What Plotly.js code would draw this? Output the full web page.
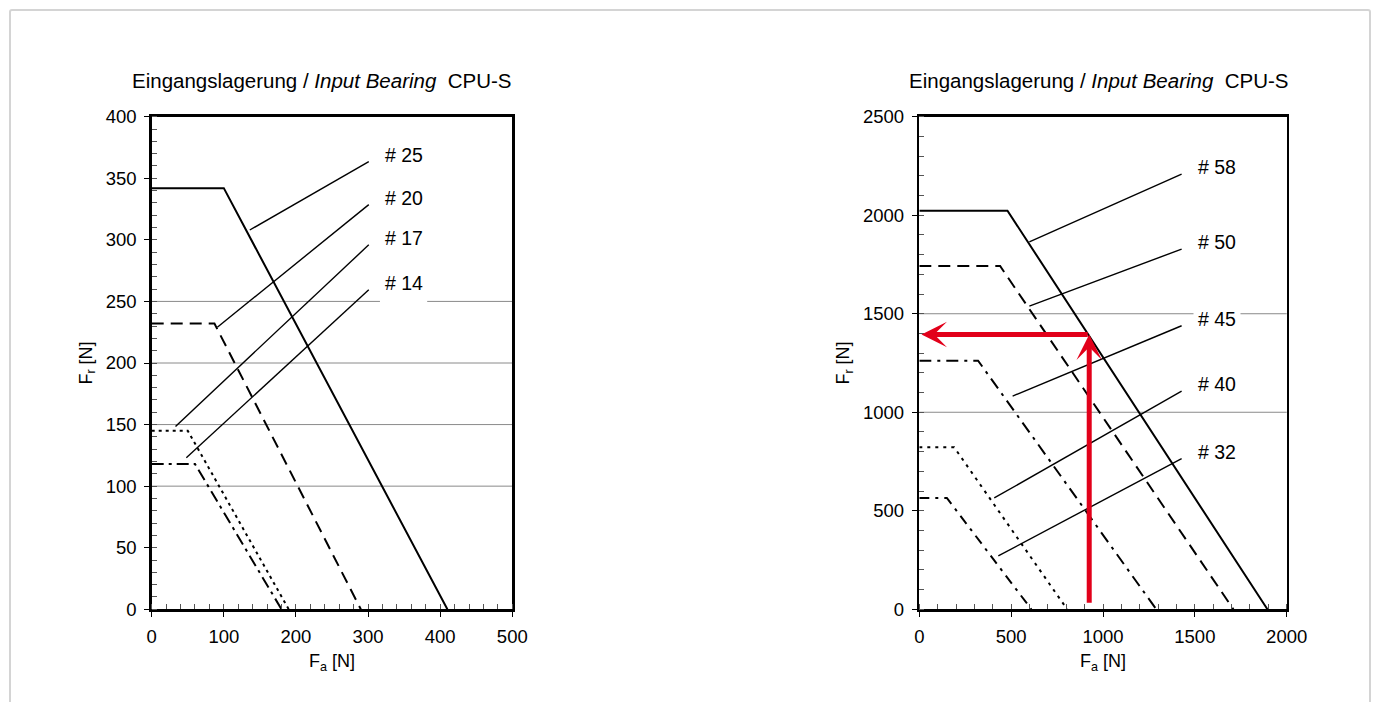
<!DOCTYPE html>
<html>
<head>
<meta charset="utf-8">
<script src="https://cdn.plot.ly/plotly-3.0.1.min.js"></script>
<style>
  html, body { margin: 0; padding: 0; background: #ffffff; }
  #frame { position: absolute; left: 9px; top: 9px; width: 1362px; height: 720px;
           border: 2px solid #d4d4d4; border-radius: 3px; box-sizing: border-box; }
  #chart { position: absolute; left: 0; top: 0; width: 1378px; height: 702px; }
</style>
</head>
<body>
<div id="frame"></div>
<div id="chart"></div>
<script>
// ---------------- data: left chart (range 0..500 / 0..400) ----------------
const leftNames   = ['# 25', '# 20', '# 17', '# 14'];
const leftCurveX  = [[0, 100, 410], [0, 87, 290], [0, 50, 190], [0, 60, 180]];
const leftCurveY  = [[342, 342, 0], [232, 232, 0], [145, 145, 0], [118, 118, 0]];
const leftLeadX   = [[136, 301], [91, 301], [33, 301], [48, 301]];
const leftLeadY   = [[308, 363.5], [229, 328.6], [148.5, 296], [123, 259.5]];
const leftDash    = ['solid', '12px,7px', '3px,4px', '12px,5px,3px,5px'];
const leftGrid    = [100, 150, 200, 250];
const leftGridGap = [316.5, 382];   // white gap in the 250 line behind "# 14"

// ---------------- data: right chart (range 0..2000 / 0..2500) ----------------
const rightNames  = ['# 58', '# 50', '# 45', '# 40', '# 32'];
const rightCurveX = [[0, 480, 1895], [0, 440, 1710], [0, 320, 1290], [0, 190, 805], [0, 150, 610]];
const rightCurveY = [[2023, 2023, 0], [1742, 1742, 0], [1262, 1262, 0], [822, 822, 0], [565, 565, 0]];
const rightLeadX  = [[599, 1428], [599, 1428], [508, 1428], [408, 1428], [430, 1428]];
const rightLeadY  = [[1865, 2209], [1539, 1828], [1082, 1439], [565, 1107], [271, 765]];
const rightDash   = ['solid', '12px,7px', '12px,6px,3px,6px', '3px,5px', '10px,6px,3px,6px'];
const rightGrid   = [1000, 1500];

// red example arrows (right chart)
const exampleFa = 925;
const exampleFr = 1395;
const exampleFrStart = 25;
const exampleFaEnd = 12;

const titleText = 'Eingangslagerung / <i>Input Bearing</i> \u00a0CPU-S';
const FONT = '"Liberation Sans", Arial, sans-serif';
const RED = '#e2001a';

const traces = [];
function addSet(names, cx, cy, lx, ly, dashes, xa, ya) {
  names.forEach((n, i) => {
    traces.push({x: cx[i], y: cy[i], xaxis: xa, yaxis: ya, mode: 'lines', name: n,
      line: {color: '#000', width: 2, dash: dashes[i]}, hoverinfo: 'skip'});
    traces.push({x: lx[i], y: ly[i], xaxis: xa, yaxis: ya, mode: 'lines', name: n + ' leader',
      line: {color: '#000', width: 1.4}, hoverinfo: 'skip'});
  });
}
addSet(leftNames, leftCurveX, leftCurveY, leftLeadX, leftLeadY, leftDash, 'x', 'y');
addSet(rightNames, rightCurveX, rightCurveY, rightLeadX, rightLeadY, rightDash, 'x2', 'y2');

const GRID = {color: '#8a8a8a', width: 1};
const shapes = [];
leftGrid.forEach(v => {
  if (v === 250) {
    shapes.push({type: 'line', xref: 'x', yref: 'y', x0: 0, x1: leftGridGap[0], y0: v, y1: v, line: GRID, layer: 'below'});
    shapes.push({type: 'line', xref: 'x', yref: 'y', x0: leftGridGap[1], x1: 500, y0: v, y1: v, line: GRID, layer: 'below'});
  } else {
    shapes.push({type: 'line', xref: 'x domain', yref: 'y', x0: 0, x1: 1, y0: v, y1: v, line: GRID, layer: 'below'});
  }
});
rightGrid.forEach(v => shapes.push({type: 'line', xref: 'x2 domain', yref: 'y2', x0: 0, x1: 1, y0: v, y1: v,
  line: GRID, layer: 'below'}));

const annotations = [];
function addLabels(names, lx, ly, xr, yr) {
  names.forEach((n, i) => annotations.push({xref: xr, yref: yr, x: lx[i][1], y: ly[i][1],
    xanchor: 'left', yanchor: 'middle', xshift: 11, yshift: 7, text: n, showarrow: false,
    bgcolor: '#ffffff', borderpad: 4, font: {family: FONT, size: 19.5, color: '#000'}}));
}
addLabels(leftNames, leftLeadX, leftLeadY, 'x', 'y');
addLabels(rightNames, rightLeadX, rightLeadY, 'x2', 'y2');

// titles
[322, 1099].forEach(px => annotations.push({xref: 'paper', yref: 'paper', x: px / 1378, y: 1 - 80 / 702,
  xanchor: 'center', yanchor: 'middle', text: titleText, showarrow: false,
  font: {family: FONT, size: 20.5, color: '#000'}}));

// red arrows: vertical up to the curve, then horizontal to the F_r axis
annotations.push({xref: 'x2', yref: 'y2', axref: 'x2', ayref: 'y2', x: exampleFa, y: exampleFr,
  ax: exampleFa, ay: exampleFrStart, text: '', showarrow: true, arrowhead: 3, arrowsize: 0.85,
  arrowwidth: 5, arrowcolor: RED, standoff: 0, startstandoff: 0});
annotations.push({xref: 'x2', yref: 'y2', axref: 'x2', ayref: 'y2', x: exampleFaEnd, y: exampleFr,
  ax: exampleFa, ay: exampleFr, text: '', showarrow: true, arrowhead: 3, arrowsize: 0.85,
  arrowwidth: 5, arrowcolor: RED, standoff: 0, startstandoff: 0});

function axis(domain, range, dtick, minor, anchor, title) {
  return {domain: domain, range: range, dtick: dtick, tick0: 0, anchor: anchor,
    showline: true, linewidth: 2.5, linecolor: '#000', mirror: true, showgrid: false, zeroline: false,
    ticks: 'outside', ticklen: 5, tickwidth: 1, tickcolor: '#000', ticklabelstandoff: 4,
    minor: {dtick: minor, ticks: 'inside', ticklen: 5, tickwidth: 1, tickcolor: '#555', showgrid: false},
    tickfont: {family: FONT, size: 18.5, color: '#000'},
    title: {text: title, font: {family: FONT, size: 18, color: '#000'}, standoff: 9},
    fixedrange: true};
}

const yDom = [1 - 609.3 / 702, 1 - 116.7 / 702];
const layout = {
  width: 1378, height: 702,
  margin: {l: 0, r: 0, t: 0, b: 0},
  paper_bgcolor: 'rgba(0,0,0,0)', plot_bgcolor: 'rgba(0,0,0,0)',
  showlegend: false,
  font: {family: FONT, color: '#000'},
  xaxis: axis([151.7 / 1378, 512.3 / 1378], [0, 500], 100, 20, 'y', 'F<sub>a</sub> [N]'),
  yaxis: axis(yDom, [0, 400], 50, 10, 'x', 'F<sub>r</sub> [N]'),
  xaxis2: axis([919.3 / 1378, 1286.7 / 1378], [0, 2000], 500, 100, 'y2', 'F<sub>a</sub> [N]'),
  yaxis2: axis(yDom, [0, 2500], 500, 100, 'x2', 'F<sub>r</sub> [N]'),
  shapes: shapes,
  annotations: annotations
};

Plotly.newPlot('chart', traces, layout, {staticPlot: true, displayModeBar: false});
</script>
</body>
</html>
